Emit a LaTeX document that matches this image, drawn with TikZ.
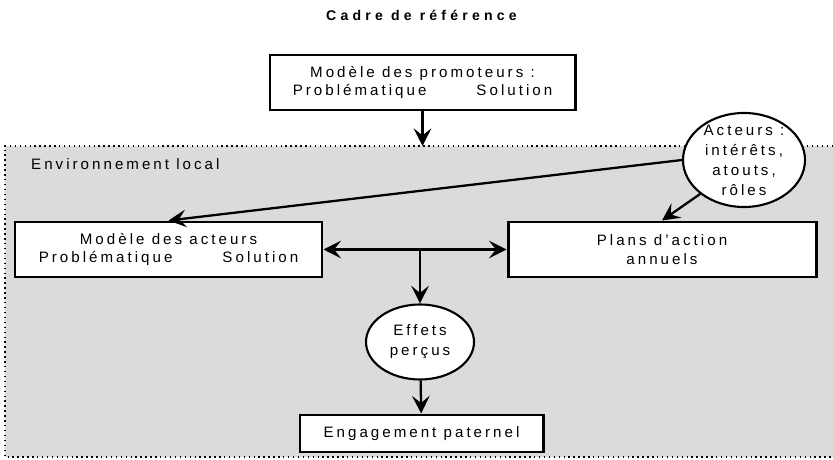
\documentclass[tikz,border=0pt]{standalone}
\usepackage{fontspec}
\setmainfont{Liberation Sans}[LetterSpace=20]
\newfontfamily\titlefont{Liberation Sans}[LetterSpace=30]
\usetikzlibrary{positioning,arrows.meta,shapes.geometric,calc}

\begin{document}
\begin{tikzpicture}[
    box/.style={draw, line width=1.7pt, fill=white, align=center, inner sep=0pt},
    bulle/.style={ellipse, draw, line width=1.2pt, fill=white, inner sep=0pt},
    fleche/.style={-{Stealth[length=10pt, width=10pt, inset=4pt]}, line width=1.3pt},
    doublefleche/.style={{Stealth[length=10pt, width=10pt, inset=4pt]}-{Stealth[length=10pt, width=10pt, inset=4pt]}, line width=1.3pt},
    every node/.style={font=\fontsize{8.6}{10.8}\selectfont}
]
    \useasboundingbox (0,0) rectangle (16.66,9.18);

    % =========================================================
    % Cadre de reference
    % =========================================================
    \node[font=\titlefont\bfseries\fontsize{8}{9}\selectfont] (titre) at (8.43,8.88) {Cadre de référence};

    \node[box, minimum width=6.1cm, minimum height=1.1cm] (prom) at (8.45,7.53)
        {Modèle des promoteurs :\\ Problématique\hspace{1cm}Solution};

    % =========================================================
    % Environnement local (fond grise, bord pointille)
    % =========================================================
    \fill[black!14] (0.1,0.04) rectangle (16.66,6.26);
    \draw[dotted, line width=0.8pt] (16.66,6.26) -- (0.1,6.26) -- (0.1,0.04) -- (16.66,0.04);
    \coordinate (envtop) at (prom.south |- 0,6.26);
    \node[anchor=west] (envlabel) at (0.5,5.9) {Environnement local};

    % Acteurs
    \node[bulle, minimum width=2.44cm, minimum height=1.88cm,
          label={[align=center, font=\fontsize{8.6}{11.4}\selectfont]center:Acteurs :\\ intérêts,\\ atouts,\\ rôles}] (act) at (14.88,5.98) {};

    % Modeles et plans
    \node[box, minimum width=6.14cm, minimum height=1.1cm] (mda) at (3.37,4.19)
        {Modèle des acteurs\\ Problématique\hspace{1cm}Solution};
    \node[box, minimum width=6.16cm, minimum height=1.1cm] (pa) at (13.24,4.19)
        {Plans d'action\\ annuels};

    % Effets et engagement
    \node[bulle, minimum width=2.16cm, minimum height=1.5cm,
          label={[align=center, font=\fontsize{8.6}{11.4}\selectfont]center:Effets\\ perçus}] (eff) at (8.4,2.34) {};
    \node[box, minimum width=4.86cm, minimum height=0.74cm] (eng) at (8.43,0.51) {Engagement paternel};

    % =========================================================
    % Fleches
    % =========================================================
    \draw[fleche] (prom) -- (envtop);
    \draw[fleche] (act.west) -- (mda.north);
    \draw[fleche] (act.south west) -- (pa.north);
    \draw[doublefleche] (mda) -- (pa);
    \coordinate (junc) at (eff.north |- mda.east);
    \draw[fleche] (junc) -- (eff);
    \draw[fleche] (eff) -- (eng);
\end{tikzpicture}
\end{document}
